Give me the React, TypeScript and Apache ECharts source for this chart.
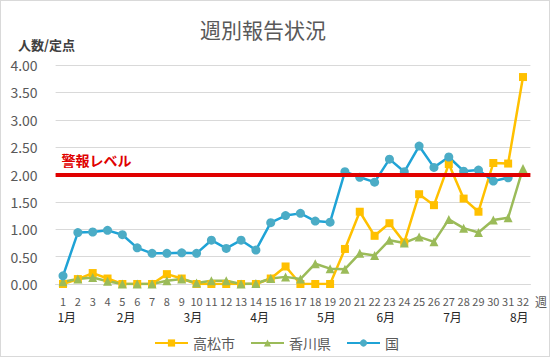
import React, { useEffect, useRef } from "react";
import * as echarts from "echarts";

const weekLabels = ["1","2","3","4","5","6","7","8","9","10","11","12","13","14","15","16","17","18","19","20","21","22","23","24","25","26","27","28","29","30","31","32"];
const monthLabels = ["1月","2月","3月","4月","5月","6月","7月","8月"];
// half-week slot index where each month label sits (64 half-week slots)
const monthSlots = [1, 9, 18, 27, 36, 44, 53, 62];

const takamatsu = [0.00,0.09,0.20,0.10,0.00,0.00,0.00,0.18,0.10,0.00,0.00,0.00,0.00,0.00,0.10,0.32,0.00,0.00,0.00,0.64,1.32,0.88,1.11,0.76,1.64,1.44,2.19,1.56,1.32,2.21,2.20,3.78];
const kagawa = [0.04,0.09,0.12,0.05,0.00,0.00,0.00,0.06,0.09,0.02,0.06,0.06,0.00,0.01,0.10,0.13,0.09,0.37,0.28,0.27,0.56,0.52,0.80,0.75,0.86,0.77,1.18,1.02,0.94,1.17,1.21,2.11];
const kuni = [0.15,0.94,0.95,0.98,0.90,0.66,0.56,0.56,0.57,0.56,0.80,0.65,0.80,0.62,1.12,1.25,1.29,1.15,1.13,2.05,1.95,1.86,2.28,2.05,2.52,2.13,2.32,2.06,2.08,1.88,1.94,null];
const alertLevel = 2.0;

const FONT = "'Noto Sans CJK JP', 'Noto Sans', sans-serif";

export default function App() {
  const ref = useRef<HTMLDivElement>(null);
  useEffect(() => {
    if (!ref.current) return;
    const chart = echarts.init(ref.current, null, { renderer: "svg" });
    const monthSlotsData: string[] = [];
    for (let i = 0; i < weekLabels.length * 2; i++) monthSlotsData.push("");
    monthSlots.forEach((s, i) => { monthSlotsData[s] = monthLabels[i]; });

    const lineSeries = (name: string, data: (number | null)[], color: string, symbol: string, size: number) => ({
      name,
      type: "line",
      data,
      symbol,
      symbolSize: size,
      showSymbol: true,
      connectNulls: false,
      lineStyle: { color, width: 2.5 },
      itemStyle: { color },
      emphasis: { disabled: true },
      xAxisIndex: 0,
      yAxisIndex: 0,
    });

    chart.setOption({
      animation: false,
      textStyle: { fontFamily: FONT },
      title: [
        { text: "週別報告状況", left: 195, top: 13, textStyle: { fontSize: 21, fontWeight: "normal", color: "#595959", fontFamily: FONT } },
        { text: "人数/定点", left: 13, top: 33, textStyle: { fontSize: 13, fontWeight: "bold", color: "#404040", fontFamily: FONT } },
      ],
      grid: { left: 55.6, right: 19.6, top: 65, bottom: 73, containLabel: false },
      legend: {
        left: 149,
        top: 331,
        itemWidth: 33,
        itemHeight: 9,
        itemGap: 15,
        textStyle: { fontSize: 14, color: "#595959", fontFamily: FONT },
        data: ["高松市", "香川県", "国"],
      },
      xAxis: [
        {
          type: "category",
          data: weekLabels,
          boundaryGap: true,
          name: "週",
          nameLocation: "end",
          nameGap: 4,
          nameTextStyle: { fontSize: 12, color: "#595959", verticalAlign: "top", padding: [11, 0, 0, 0] },
          axisLine: { show: true, lineStyle: { color: "#d9d9d9", width: 1 } },
          axisTick: { show: false },
          axisLabel: { interval: 0, fontSize: 11, color: "#595959", margin: 11 },
          splitLine: { show: false },
        },
        {
          type: "category",
          data: monthSlotsData,
          boundaryGap: true,
          position: "bottom",
          gridIndex: 0,
          axisLine: { show: false },
          axisTick: { show: false },
          axisLabel: { interval: 0, fontSize: 12, color: "#262626", margin: 26 },
          splitLine: { show: false },
        },
      ],
      yAxis: {
        type: "value",
        min: 0,
        max: 4,
        interval: 0.5,
        axisLine: { show: false },
        axisTick: { show: false },
        axisLabel: { fontSize: 14, color: "#595959", margin: 18, formatter: (v: number) => v.toFixed(2) },
        splitLine: { lineStyle: { color: "#d9d9d9", width: 1 } },
      },
      series: [
        lineSeries("高松市", takamatsu, "#FFC000", "rect", 8),
        lineSeries("香川県", kagawa, "#9BBB59", "triangle", 9),
        {
          ...lineSeries("国", kuni, "#1FA3D6", "circle", 9),
          itemStyle: { color: "#4BACC6" },
          markLine: {
            silent: true,
            symbol: ["none", "none"],
            lineStyle: { color: "#E00000", width: 4, type: "solid" },
            label: {
              show: true,
              position: "insideStartTop",
              formatter: "警報レベル",
              color: "#E00000",
              fontSize: 14,
              fontWeight: "bold",
              fontFamily: FONT,
              distance: [6, 8],
            },
            data: [{ yAxis: alertLevel }],
          },
        },
      ],
    });
    return () => chart.dispose();
  }, []);

  return (
    <>
      <div style={{ position: "absolute", left: 0, top: 0, width: 550, height: 357, boxSizing: "border-box", border: "1px solid #d9d9d9", background: "#fff" }} />
      <div ref={ref} style={{ position: "absolute", left: 0, top: 0, width: 550, height: 357 }} />
    </>
  );
}
